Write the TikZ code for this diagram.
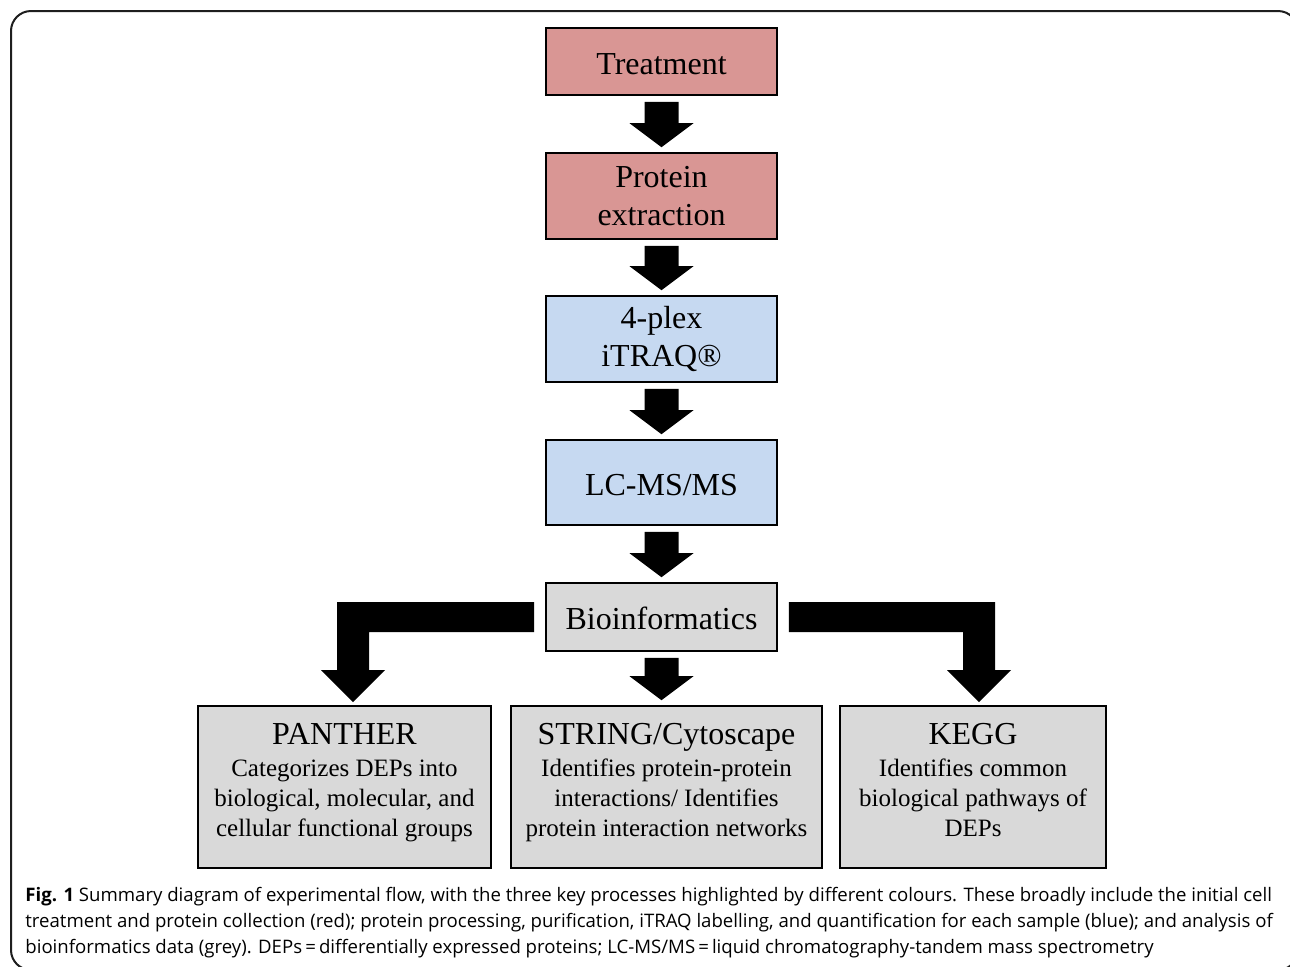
\documentclass[tikz,border=0pt]{standalone}
\usepackage{fontspec}
\setmainfont{Liberation Serif}
\newfontfamily\capfont{Open Sans}
\usetikzlibrary{calc}
\definecolor{redfill}{RGB}{217,150,148}
\definecolor{bluefill}{RGB}{198,217,241}
\definecolor{greyfill}{RGB}{217,217,217}
\definecolor{framecol}{RGB}{30,30,30}
\newcommand{\blkarrow}[2]{%
  \fill ($(#1)+(-17,6)$) -- ($(#1)+(17,6)$) -- ($(#2)+(17,-29)$) -- ($(#2)+(32,-29)$)
        -- ($(#2)+(0,-5)$) -- ($(#2)+(-32,-29)$) -- ($(#2)+(-17,-29)$) -- cycle;}
\begin{document}
\begin{tikzpicture}[x=0.5pt,y=-0.5pt,
  box/.style={draw=black, line width=0.8pt, inner sep=0pt, align=center,
    font=\fontsize{16}{19}\selectfont},
  oneline/.style={text height=13.2pt, text depth=0.5pt},
  twoline/.style={execute at begin node={\rule{0pt}{0pt}}},
  redbox/.style={box, fill=redfill, minimum width=115.5pt},
  bluebox/.style={box, fill=bluefill, minimum width=115.5pt},
  greybox/.style={box, fill=greyfill},
  btext/.style={inner sep=0pt, align=center, anchor=north,
    font=\fontsize{12.5}{15}\selectfont},
]
\useasboundingbox (0,0) rectangle (1290,966);
\begin{scope}
  \clip (0,0) rectangle (1290,966);
  \draw[framecol, line width=1pt, rounded corners=10pt] (11,11) rectangle (1298,970);
\end{scope}

\node[redbox, oneline, minimum height=33.5pt] (treat) at (661.5,61.5) {Treatment};
\node[redbox, minimum height=43pt] (prot) at (661.5,196) {Protein\\extraction};
\node[bluebox, minimum height=43pt] (itraq) at (661.5,339) {4-plex\\iTRAQ®};
\node[bluebox, oneline, minimum height=42.5pt] (lcms) at (661.5,482.5) {LC-MS/MS};
\node[greybox, oneline, minimum width=115.5pt, minimum height=34pt] (bio) at (661.5,617) {Bioinformatics};

\node[greybox, minimum width=146.5pt, minimum height=81pt] (panther) at (344.5,787) {};
\node[greybox, minimum width=155.5pt, minimum height=81pt] (string) at (666.5,787) {};
\node[greybox, minimum width=133pt, minimum height=81pt] (kegg) at (973,787) {};

\node[btext] at ($(panther.north)+(0,18)$) {{\fontsize{16}{19}\selectfont PANTHER}\\[1pt]
  Categorizes DEPs into\\ biological, molecular, and\\ cellular functional groups};
\node[btext] at ($(string.north)+(0,18)$) {{\fontsize{16}{19}\selectfont STRING/Cytoscape}\\[1pt]
  Identifies protein-protein\\ interactions/ Identifies\\ protein interaction networks};
\node[btext] at ($(kegg.north)+(0,18)$) {{\fontsize{16}{19}\selectfont KEGG}\\[1pt]
  Identifies common\\ biological pathways of\\ DEPs};

\blkarrow{treat.south}{prot.north}
\blkarrow{prot.south}{itraq.north}
\blkarrow{itraq.south}{lcms.north}
\blkarrow{lcms.south}{bio.north}
\coordinate (mt) at (bio.south |- string.north);
\blkarrow{bio.south}{mt}

\coordinate (lt) at ($(panther.north)+(8.5,-3)$);
\fill ($(bio.west)+(-11,-15)$) -- ($(lt |- bio.west)+(-16,-15)$) -- ($(lt)+(-16,-32)$)
  -- ($(lt)+(-32,-32)$) -- (lt) -- ($(lt)+(32,-32)$) -- ($(lt)+(16,-32)$)
  -- ($(lt |- bio.west)+(16,15)$) -- ($(bio.west)+(-11,15)$) -- cycle;

\coordinate (rt) at ($(kegg.north)+(6,-3)$);
\fill ($(bio.east)+(11,-15)$) -- ($(rt |- bio.east)+(16,-15)$) -- ($(rt)+(16,-32)$)
  -- ($(rt)+(32,-32)$) -- (rt) -- ($(rt)+(-32,-32)$) -- ($(rt)+(-16,-32)$)
  -- ($(rt |- bio.east)+(-16,15)$) -- ($(bio.east)+(11,15)$) -- cycle;

\node[anchor=north west, inner sep=0pt, align=left, font=\capfont\fontsize{9.3}{13}\selectfont]
  (cap) at (25,887) {\textbf{Fig. 1} Summary diagram of experimental flow, with the three key processes highlighted by different colours. These broadly include the initial cell\\
treatment and protein collection (red); protein processing, purification, iTRAQ labelling, and quantification for each sample (blue); and analysis of\\
bioinformatics data (grey). DEPs\,=\,differentially expressed proteins; LC-MS/MS\,=\,liquid chromatography-tandem mass spectrometry};
\end{tikzpicture}
\end{document}
